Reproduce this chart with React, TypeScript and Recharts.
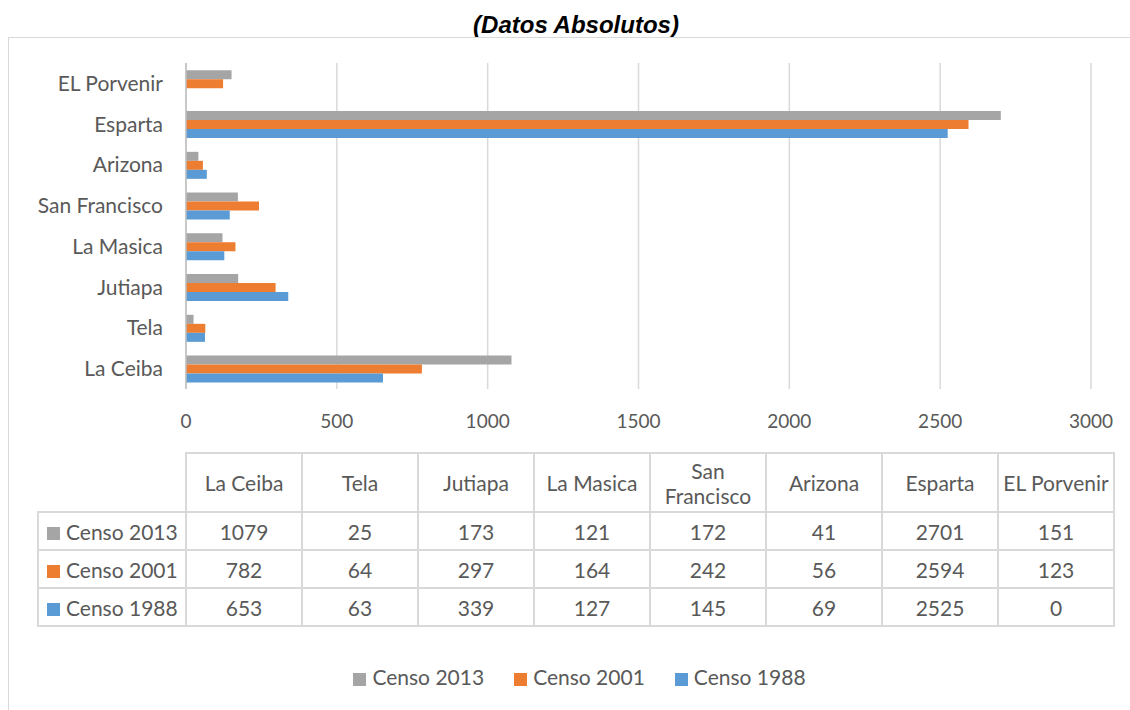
import { Bar, BarChart, CartesianGrid, Legend, XAxis, YAxis } from 'recharts'

const places = ['La Ceiba', 'Tela', 'Jutiapa', 'La Masica', 'San Francisco', 'Arizona', 'Esparta', 'EL Porvenir']
const censo2013 = [1079, 25, 173, 121, 172, 41, 2701, 151]
const censo2001 = [782, 64, 297, 164, 242, 56, 2594, 123]
const censo1988 = [653, 63, 339, 127, 145, 69, 2525, 0]
const xTicks = [0, 500, 1000, 1500, 2000, 2500, 3000]

const series = [
  { key: 'c2013', name: 'Censo 2013', color: '#A5A5A5', values: censo2013 },
  { key: 'c2001', name: 'Censo 2001', color: '#ED7D31', values: censo2001 },
  { key: 'c1988', name: 'Censo 1988', color: '#5B9BD5', values: censo1988 },
]

// chart lists La Ceiba at the bottom, so feed rows top-down
const data = places
  .map((place, i) => ({
    place,
    c2013: censo2013[i],
    c2001: censo2001[i],
    c1988: censo1988[i],
  }))
  .reverse()

const FONT = 'Lato, "Noto Sans", sans-serif'
const TEXT = '#595959'
const LINE = '#d9d9d9'

const cell: React.CSSProperties = {
  border: `2px solid ${LINE}`,
  textAlign: 'center',
  padding: 0,
  width: 114,
}

export default function App() {
  return (
    <div style={{ position: 'absolute', left: 0, top: 0, width: 1130, height: 710, background: '#fff', fontFamily: FONT }}>
      <div
        style={{
          position: 'absolute', left: 0, top: 11, width: 1152, textAlign: 'center',
          fontFamily: '"Liberation Sans", Arial, sans-serif', fontWeight: 'bold', fontStyle: 'italic', fontSize: 24, lineHeight: '28px', color: '#000',
        }}
      >
        (Datos Absolutos)
      </div>
      <div style={{ position: 'absolute', left: 8, top: 37, right: 0, bottom: 0, borderTop: `1.5px solid ${LINE}`, borderLeft: `1.5px solid ${LINE}` }} />

      <div style={{ position: 'absolute', left: 0, top: 0 }}>
        <BarChart
          width={1130}
          height={710}
          data={data}
          layout="vertical"
          margin={{ top: 63, right: 39, left: 10, bottom: 266 }}
          barCategoryGap="18%"
          barGap={0}
        >
          <CartesianGrid horizontal={false} stroke={LINE} strokeWidth={1.5} />
          <XAxis
            type="number"
            domain={[0, 3000]}
            ticks={xTicks}
            axisLine={false}
            tickLine={false}
            height={30}
            tickMargin={20}
            tick={{ fill: TEXT, fontSize: 19, fontFamily: FONT }}
          />
          <YAxis
            type="category"
            dataKey="place"
            width={176}
            axisLine={{ stroke: '#bfbfbf', strokeWidth: 1.5 }}
            tickLine={false}
            tickMargin={17}
            tick={{ fill: TEXT, fontSize: 21, fontFamily: FONT }}
          />
          {series.map((s) => (
            <Bar key={s.key} dataKey={s.key} name={s.name} fill={s.color} isAnimationActive={false} />
          ))}
          <Legend
            verticalAlign="bottom"
            iconType="square"
            iconSize={13}
            itemSorter={(item: any) => series.findIndex((s) => s.name === item.value)}
            wrapperStyle={{ fontSize: 21, fontFamily: FONT, bottom: 21, paddingLeft: 44 }}
            formatter={(v) => <span style={{ color: TEXT, marginLeft: 2, marginRight: 20 }}>{v}</span>}
          />
        </BarChart>
      </div>

      <table
        style={{
          position: 'absolute', left: 37, top: 452, borderCollapse: 'collapse',
          fontSize: 21, color: TEXT, fontFamily: FONT, tableLayout: 'fixed',
        }}
      >
        <tbody>
          <tr style={{ height: 59 }}>
            <td style={{ width: 138, padding: 0, border: 'none' }} />
            {places.map((p) => (
              <td key={p} style={{ ...cell, lineHeight: '25px' }}>
                {p === 'San Francisco' ? (
                  <>San<br />Francisco</>
                ) : (
                  p
                )}
              </td>
            ))}
          </tr>
          {series.map((s) => (
            <tr key={s.key} style={{ height: 38 }}>
              <td style={{ ...cell, width: 138, textAlign: 'left', paddingLeft: 8, whiteSpace: 'nowrap' }}>
                <span style={{ display: 'inline-block', width: 13, height: 13, background: s.color, marginRight: 6 }} />
                {s.name}
              </td>
              {s.values.map((v, i) => (
                <td key={places[i]} style={cell}>{v}</td>
              ))}
            </tr>
          ))}
        </tbody>
      </table>
    </div>
  )
}
